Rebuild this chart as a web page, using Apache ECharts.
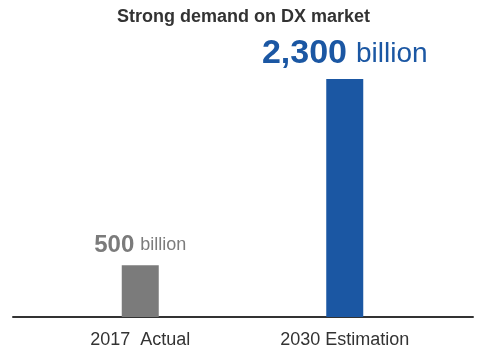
<!DOCTYPE html>
<html>
<head>
<meta charset="utf-8">
<script src="https://cdn.jsdelivr.net/npm/echarts@6/dist/echarts.min.js"></script>
<style>
html,body{margin:0;padding:0;background:#fff;}
#c{width:487px;height:356px;}
</style>
</head>
<body>
<div id="c"></div>
<script>
const title = 'Strong demand on DX market';
const categories = ['2017  Actual', '2030 Estimation'];
const values = [500, 2300];
const unit = 'billion';
const barColors = ['#7b7b7b', '#1b57a3'];
const labelSizes = [[24, 18, 6], [34, 28, 9]];

const FONT = '"Liberation Sans", Arial, Helvetica, sans-serif';
const chart = echarts.init(document.getElementById('c'));

const data = values.map((v, i) => ({
  value: v,
  itemStyle: { color: barColors[i] },
  label: {
    show: true,
    position: 'top',
    distance: 8,
    formatter: '{n|' + v.toLocaleString('en-US') + '}{u|' + unit + '}',
    rich: {
      n: { fontSize: labelSizes[i][0], fontWeight: 'bold', color: barColors[i], fontFamily: FONT },
      u: { fontSize: labelSizes[i][1], color: barColors[i], fontFamily: FONT, padding: [0, 0, 0, labelSizes[i][2]] }
    }
  }
}));

chart.setOption({
  animation: false,
  title: {
    text: title,
    left: 'center',
    top: 3,
    textStyle: { fontSize: 18, fontWeight: 'bold', color: '#333', fontFamily: FONT }
  },
  grid: [
    { left: 38, right: 40, top: 79, bottom: 39 },
    { left: 13, right: 14, top: 79, bottom: 39 }
  ],
  xAxis: [
    {
      type: 'category',
      gridIndex: 0,
      data: categories,
      axisLine: { show: false },
      axisTick: { show: false },
      axisLabel: { color: '#333', fontSize: 18, margin: 14, fontFamily: FONT }
    },
    {
      type: 'value',
      gridIndex: 1,
      min: 0, max: 1,
      axisLine: { show: true, lineStyle: { color: '#333', width: 2 } },
      axisTick: { show: false },
      axisLabel: { show: false },
      splitLine: { show: false }
    }
  ],
  yAxis: [
    { type: 'value', gridIndex: 0, min: 0, max: 2300, show: false, splitLine: { show: false } },
    { type: 'value', gridIndex: 1, min: 0, max: 1, show: false, splitLine: { show: false } }
  ],
  series: [{
    type: 'bar',
    xAxisIndex: 0,
    yAxisIndex: 0,
    barWidth: 37,
    data: data
  }]
});
</script>
</body>
</html>
